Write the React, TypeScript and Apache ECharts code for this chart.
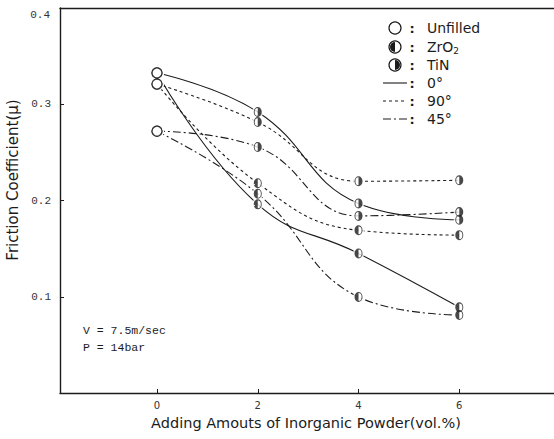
import React, { useEffect, useRef } from "react";
import * as echarts from "echarts";

// ---- data ----
const xValues = [0, 2, 4, 6];
const xTicks = [0, 2, 4, 6];
const yTicks = [0.1, 0.2, 0.3];
const tin0 = [0.3325, 0.292, 0.197, 0.18];
const tin90 = [0.321, 0.2815, 0.22, 0.221];
const tin45 = [0.272, 0.2556, 0.184, 0.188];
const zr0 = [0.3325, 0.196, 0.145, 0.089];
const zr90 = [0.321, 0.218, 0.169, 0.164];
const zr45 = [0.272, 0.207, 0.0998, 0.081];
const legendLabels = ["Unfilled", "ZrO{sub|2}", "TiN", "0°", "90°", "45°"];
const noteLines = ["V = 7.5m/sec", "P = 14bar"];

const INK = "#1c1c1c";
const SANS = "DejaVu Sans, Verdana, sans-serif";
const MONO = "Liberation Mono, monospace";

const RING =
  "M10 0A10 10 0 1 1 10 20A10 10 0 1 1 10 0Z M10 2.2A7.8 7.8 0 1 0 10 17.8A7.8 7.8 0 1 0 10 2.2Z";
const ZR_PATH = "path://" + RING + " M10 2.2A7.8 7.8 0 0 0 10 17.8Z";
const TIN_PATH = "path://" + RING + " M10 2.2A7.8 7.8 0 0 1 10 17.8Z";

const DASH90 = [3, 3];
const DASH45 = [8, 3, 2, 3];

const txt = (x: number, y: number, text: string, font: string, align = "left", extra: any = {}) => ({
  type: "text",
  x,
  y,
  ...extra,
  style: {
    text,
    font,
    fill: INK,
    align,
    verticalAlign: "middle",
    textAlign: align,
    textVerticalAlign: "middle",
    ...(extra.style || {}),
  },
});

export default function App() {
  const ref = useRef<HTMLDivElement>(null);
  useEffect(() => {
    if (!ref.current) return;
    const chart = echarts.init(ref.current, null, { renderer: "svg" });

    const lines = [
      { name: "TiN 0°", vals: tin0, dash: "solid", sym: TIN_PATH },
      { name: "TiN 90°", vals: tin90, dash: DASH90, sym: TIN_PATH },
      { name: "TiN 45°", vals: tin45, dash: DASH45, sym: TIN_PATH },
      { name: "ZrO2 0°", vals: zr0, dash: "solid", sym: ZR_PATH },
      { name: "ZrO2 90°", vals: zr90, dash: DASH90, sym: ZR_PATH },
      { name: "ZrO2 45°", vals: zr45, dash: DASH45, sym: ZR_PATH },
    ];

    const lineSeries = lines.map((l) => ({
      type: "line",
      name: l.name,
      data: xValues.map((x, i) => [x, l.vals[i]]),
      smooth: 0.45,
      symbol: "none",
      lineStyle: { color: INK, width: 1.1, type: l.dash },
      z: 2,
    }));

    const underlay = {
      type: "scatter",
      data: lines.flatMap((l) => xValues.map((x, i) => [x, l.vals[i]])),
      symbol: "circle",
      symbolSize: (v: number[]) => (v[0] === 0 ? 14 : [11, 13]),
      itemStyle: { color: "#fff" },
      z: 3,
    };

    const openMarks = {
      type: "scatter",
      data: lines.map((l) => [xValues[0], l.vals[0]]),
      symbol: "circle",
      symbolSize: 10,
      itemStyle: { color: "#fff", borderColor: INK, borderWidth: 1.3 },
      z: 4,
    };

    const marksFor = (sym: string) => ({
      type: "scatter",
      data: lines
        .filter((l) => l.sym === sym)
        .flatMap((l) => xValues.slice(1).map((x, i) => [x, l.vals[i + 1]])),
      symbol: sym,
      symbolSize: [8, 10],
      itemStyle: { color: INK },
      z: 4,
    });

    // legend graphics
    const rowY = [28, 47, 65, 83, 101, 119];
    const symX = 395;
    const legendEls: any[] = [];
    legendEls.push({
      type: "circle",
      shape: { cx: symX, cy: rowY[0], r: 6 },
      style: { fill: "#fff", stroke: INK, lineWidth: 1.2 },
    });
    [1, 2].forEach((k) => {
      legendEls.push({
        type: "circle",
        shape: { cx: symX, cy: rowY[k], r: 6 },
        style: { fill: "#fff", stroke: INK, lineWidth: 1.2 },
      });
      legendEls.push({
        type: "sector",
        shape: {
          cx: symX,
          cy: rowY[k],
          r0: 0,
          r: 5,
          startAngle: k === 1 ? Math.PI / 2 : -Math.PI / 2,
          endAngle: k === 1 ? (Math.PI * 3) / 2 : Math.PI / 2,
          clockwise: true,
        },
        style: { fill: INK },
      });
    });
    const dashes: any[] = [null, DASH90, DASH45];
    [3, 4, 5].forEach((k, j) => {
      legendEls.push({
        type: "line",
        shape: { x1: 383, y1: rowY[k], x2: 407, y2: rowY[k] },
        style: { stroke: INK, lineWidth: 1.1, lineDash: dashes[j] },
      });
    });
    rowY.forEach((y, k) => {
      legendEls.push(txt(412, y, ":", `bold 13px ${SANS}`, "center"));
      legendEls.push(
        txt(427, y, legendLabels[k], `14px ${SANS}`, "left", {
          style: {
            rich: {
              sub: { fontSize: 9, fontFamily: SANS, padding: [8, 0, 0, 0], fill: INK },
            },
          },
        })
      );
    });

    const otherText: any[] = [
      txt(50, 15, "0.4", `11px ${MONO}`, "right", { style: { fill: "#333" } }),
      txt(13, 180, "Friction Coefficient(μ)", `15px ${SANS}`, "center", {
        rotation: Math.PI / 2,
      }),
      txt(306, 423, "Adding Amouts of Inorganic Powder(vol.%)", `14.5px ${SANS}`, "center"),
      ...noteLines.map((t, i) => txt(83, 330 + i * 17, t, `11.5px ${MONO}`, "left")),
    ];

    chart.setOption({
      animation: false,
      backgroundColor: "#fff",
      grid: { left: 60, right: 0, top: 8, bottom: 46, containLabel: false },
      xAxis: [
        {
          type: "value",
          min: -1.925,
          max: 7.88,
          axisLine: { show: true, onZero: false, lineStyle: { color: INK, width: 1.4 } },
          axisTick: {
            show: true,
            inside: true,
            length: 4,
            customValues: xTicks,
            lineStyle: { color: INK },
          },
          axisLabel: {
            show: true,
            customValues: xTicks,
            margin: 7,
            fontSize: 10,
            fontFamily: "DejaVu Sans, sans-serif",
            color: "#333",
          },
          splitLine: { show: false },
        },
        {
          type: "value",
          position: "top",
          min: -1.925,
          max: 7.88,
          axisLine: { show: true, onZero: false, lineStyle: { color: INK, width: 1.4 } },
          axisTick: { show: false },
          axisLabel: { show: false },
          splitLine: { show: false },
        },
      ],
      yAxis: {
        type: "value",
        min: 0,
        max: 0.4,
        interval: 0.1,
        axisLine: { show: true, onZero: false, lineStyle: { color: INK, width: 1.4 } },
        axisTick: {
          show: true,
          inside: true,
          length: 4,
          customValues: yTicks,
          lineStyle: { color: INK },
        },
        axisLabel: {
          show: true,
          customValues: yTicks,
          margin: 9,
          fontSize: 11,
          fontFamily: MONO,
          color: "#333",
          formatter: (v: number) => v.toFixed(1),
        },
        splitLine: { show: false },
      },
      series: [...lineSeries, underlay, openMarks, marksFor(TIN_PATH), marksFor(ZR_PATH)],
      graphic: [...legendEls, ...otherText],
    });

    return () => chart.dispose();
  }, []);

  return (
    <div
      ref={ref}
      style={{ position: "absolute", left: 0, top: 0, width: 554, height: 439 }}
    />
  );
}
